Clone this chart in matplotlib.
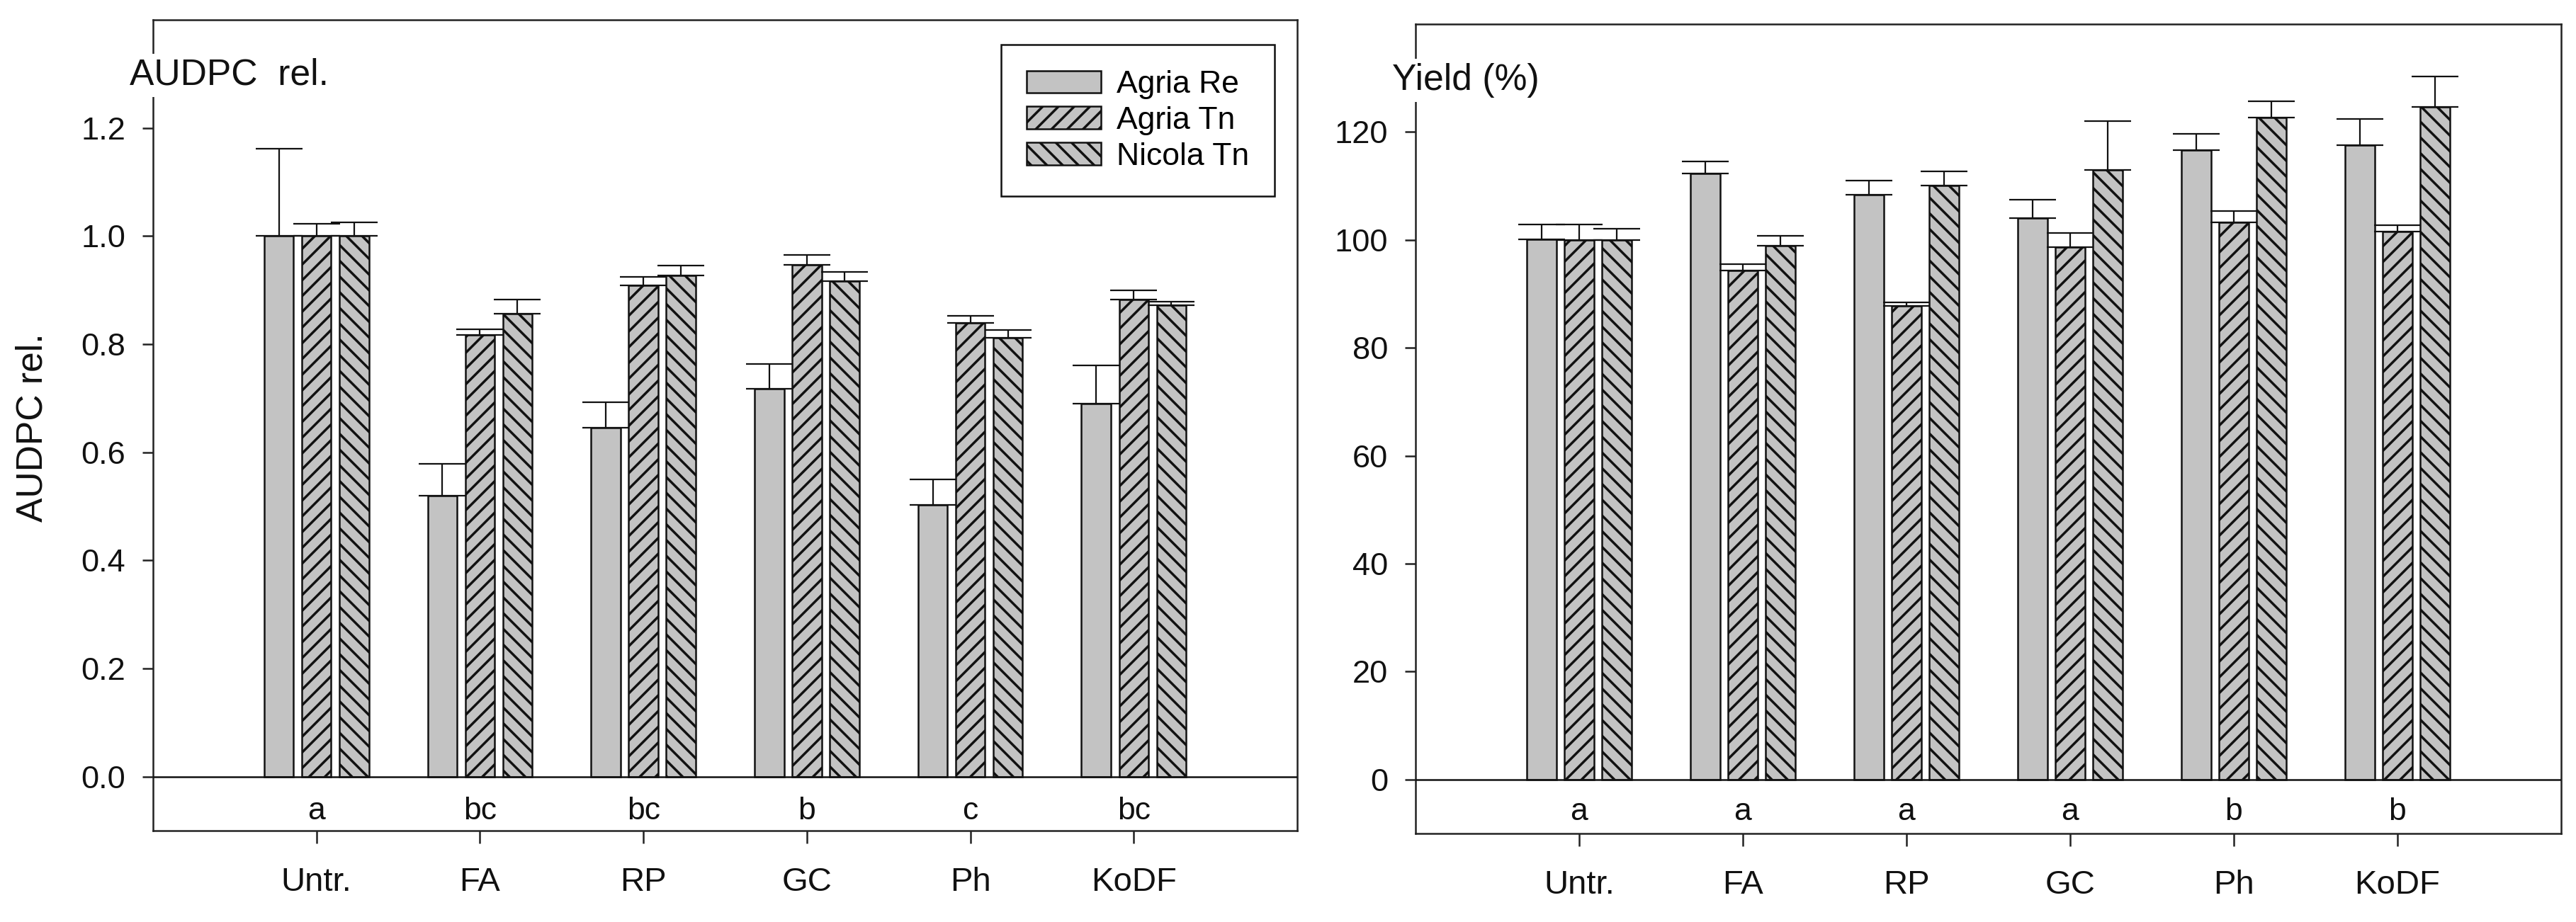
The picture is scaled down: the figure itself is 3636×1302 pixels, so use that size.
import numpy as np
import matplotlib
matplotlib.use('Agg')
import matplotlib.pyplot as plt

plt.rcParams['font.family'] = ['Liberation Sans', 'DejaVu Sans']
plt.rcParams['hatch.linewidth'] = 1.25

# data
treatments = ['Untr.', 'FA', 'RP', 'GC', 'Ph', 'KoDF']
series = ['Agria Re', 'Agria Tn', 'Nicola Tn']

audpc_agria_re = [1.000, 0.520, 0.646, 0.717, 0.503, 0.690]
audpc_agria_tn = [1.000, 0.817, 0.909, 0.947, 0.839, 0.882]
audpc_nicola_tn = [1.000, 0.856, 0.927, 0.916, 0.812, 0.872]
audpc_err_agria_re = [0.162, 0.059, 0.046, 0.046, 0.047, 0.071]
audpc_err_agria_tn = [0.023, 0.010, 0.016, 0.018, 0.013, 0.018]
audpc_err_nicola_tn = [0.025, 0.027, 0.019, 0.017, 0.014, 0.006]
audpc_letters = ['a', 'bc', 'bc', 'b', 'c', 'bc']

yield_agria_re = [100.1, 112.3, 108.4, 104.1, 116.7, 117.5]
yield_agria_tn = [100.0, 94.3, 87.8, 98.7, 103.2, 101.5]
yield_nicola_tn = [100.0, 98.9, 110.1, 112.9, 122.7, 124.6]
yield_err_agria_re = [2.8, 2.3, 2.6, 3.4, 2.9, 4.9]
yield_err_agria_tn = [2.9, 1.2, 0.6, 2.6, 2.1, 1.2]
yield_err_nicola_tn = [2.1, 1.9, 2.6, 9.1, 3.0, 5.7]
yield_letters = ['a', 'a', 'a', 'a', 'b', 'b']

fill = '#c3c3c3'
hatches = [None, '///', '\\\\\\']
offsets = [-0.23, 0.0, 0.23]
bar_w = 0.18

fig = plt.figure(figsize=(18.185, 6.51), dpi=200)
ax1 = fig.add_axes([0.05939, 0.09908, 0.44405, 0.87942])
ax2 = fig.add_axes([0.54935, 0.09601, 0.44460, 0.87788])

x = np.arange(len(treatments))


def draw_panel(ax, vals, errs, letters, ylim, yticks, fmt, label, label_y, letter_y):
    for i in range(3):
        ax.bar(x + offsets[i], vals[i], width=bar_w, color=fill, edgecolor='#111111',
               linewidth=0.9, hatch=hatches[i], label=series[i], zorder=2)
        ax.errorbar(x + offsets[i], vals[i], yerr=[np.zeros(len(x)), errs[i]], fmt='none',
                    ecolor='#111111', elinewidth=0.8, capsize=12, capthick=0.8, zorder=3)
    ax.axhline(0, color='#111111', lw=0.9, zorder=4)
    ax.set_xlim(-1, 6)
    ax.set_ylim(*ylim)
    ax.set_yticks(yticks)
    ax.set_yticklabels([fmt.format(v) for v in yticks])
    ax.set_xticks(x)
    ax.set_xticklabels(treatments)
    for sp in ax.spines.values():
        sp.set_linewidth(0.9)
        sp.set_color('#222222')
    ax.tick_params(axis='y', direction='out', length=5.4, width=0.9, pad=8.5,
                   labelsize=16.3, colors='#222222', labelcolor='#111111')
    ax.tick_params(axis='x', direction='out', length=6.5, width=0.9, pad=12,
                   labelsize=17, colors='#222222', labelcolor='#111111')
    trans = matplotlib.transforms.blended_transform_factory(ax.transData, ax.transAxes)
    for i, t in enumerate(letters):
        ax.text(x[i], letter_y, t, transform=trans, ha='center', va='baseline',
                fontsize=16, color='#111111')
    ax.text(-0.0204, label_y, label, transform=ax.transAxes, ha='left', va='baseline',
            fontsize=18.6, color='#111111', zorder=10,
            bbox=dict(boxstyle='square,pad=0.12', fc='white', ec='none'),
            clip_on=False)


draw_panel(ax1, [audpc_agria_re, audpc_agria_tn, audpc_nicola_tn],
           [audpc_err_agria_re, audpc_err_agria_tn, audpc_err_nicola_tn],
           audpc_letters, (-0.1, 1.4), [0.0, 0.2, 0.4, 0.6, 0.8, 1.0, 1.2], '{:.1f}',
           'AUDPC  rel.', 0.9197, 0.014)

draw_panel(ax2, [yield_agria_re, yield_agria_tn, yield_nicola_tn],
           [yield_err_agria_re, yield_err_agria_tn, yield_err_nicola_tn],
           yield_letters, (-10, 140), [0, 20, 40, 60, 80, 100, 120], '{:d}',
           'Yield (%)', 0.9186, 0.0166)

fig.text(46 / 3637, 1 - 604 / 1302, 'AUDPC rel.', rotation=90, ha='center', va='center',
         fontsize=18.6, color='#111111')

leg = ax1.legend(loc='upper right', bbox_to_anchor=(0.980, 0.969), fontsize=16,
                 handlelength=2.36, handleheight=0.72, handletextpad=0.5,
                 labelspacing=0.22, borderpad=0.8, borderaxespad=0,
                 fancybox=False, framealpha=1, edgecolor='#111111')
leg.get_frame().set_linewidth(0.9)

plt.savefig('out.png', dpi=200)
